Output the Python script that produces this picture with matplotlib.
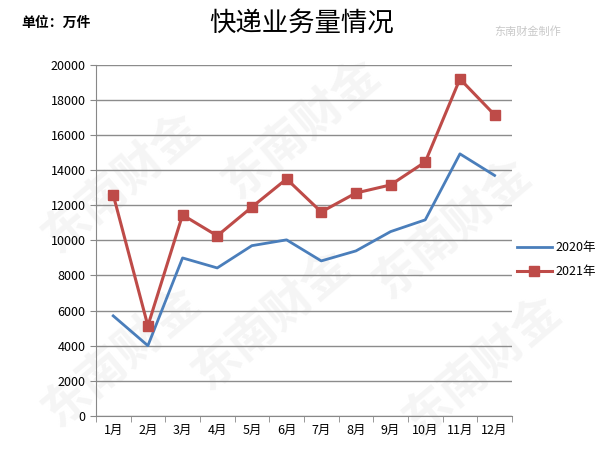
import matplotlib
matplotlib.use('Agg')
import matplotlib.pyplot as plt
import numpy as np

plt.rcParams['font.family'] = ['Noto Sans CJK SC', 'DejaVu Sans']

# 数据
months = ['1月', '2月', '3月', '4月', '5月', '6月', '7月', '8月', '9月', '10月', '11月', '12月']
y2020 = [5700, 4000, 9000, 8430, 9700, 10030, 8830, 9400, 10500, 11170, 14930, 13700]
y2021 = [12600, 5130, 11450, 10260, 11900, 13500, 11620, 12700, 13160, 14470, 19200, 17150]

fig = plt.figure(figsize=(6.03, 4.57), dpi=100)
ax = fig.add_axes([0.159, 0.09, 0.69, 0.768])
ax.set_zorder(2)

# 水印
for (wx, wy) in [(0.2, 0.6), (0.5, 0.72), (0.45, 0.3), (0.75, 0.5), (0.8, 0.2), (0.2, 0.22)]:
    fig.text(wx, wy, '东南财金', fontsize=34, color='#f5f5f5', rotation=40,
             ha='center', va='center', fontweight='bold', zorder=0)

x = np.arange(len(months))
ax.plot(x, y2020, color='#4a7ebb', lw=2, label='2020年', zorder=3)
ax.plot(x, y2021, color='#be4b48', lw=2.2, marker='s', ms=7, label='2021年', zorder=3)

ax.set_xlim(-0.5, 11.5)
ax.set_ylim(0, 20000)
ax.set_yticks(range(0, 20001, 2000))
ax.set_xticks(x)
ax.set_xticklabels(months, fontsize=9)
ax.set_xticks(np.arange(-0.5, 12, 1), minor=True)
ax.tick_params(axis='x', which='major', length=0, pad=6)
ax.tick_params(axis='x', which='minor', length=4, color='#888888')
ax.tick_params(axis='y', labelsize=9, length=4, color='#888888')
ax.grid(axis='y', color='#8c8c8c', lw=1)
ax.set_axisbelow(True)
ax.patch.set_alpha(0)
for s in ['top', 'right']:
    ax.spines[s].set_visible(False)
for s in ['left', 'bottom']:
    ax.spines[s].set_color('#888888')

ax.legend(loc='center left', bbox_to_anchor=(0.985, 0.445), frameon=False, fontsize=9,
          handlelength=2.8, handletextpad=0.3, labelspacing=0.9)

fig.text(0.035, 0.95, '单位：万件', fontsize=10, fontweight='bold', va='center')
fig.text(0.50, 0.95, '快递业务量情况', fontsize=19, fontweight='medium', va='center', ha='center')
fig.text(0.875, 0.93, '东南财金制作', fontsize=8, color='#c9c9c9', va='center', ha='center')

fig.savefig('out.png', dpi=100)
